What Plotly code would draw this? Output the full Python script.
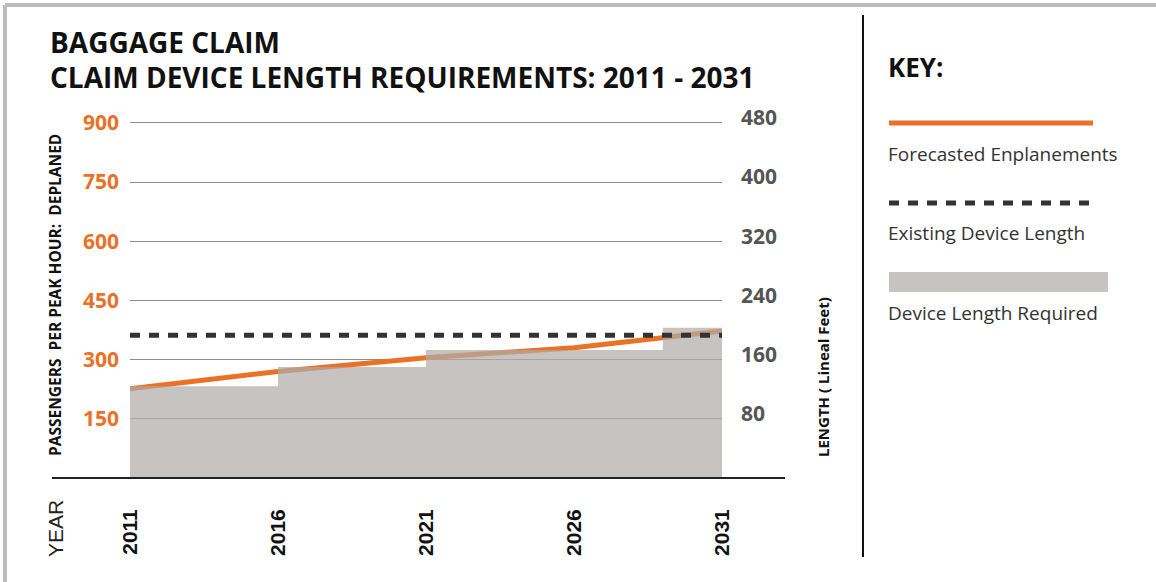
import plotly.graph_objects as go

# ---- data ----
years = [2011, 2016, 2021, 2026, 2031]
enplanements = [226, 270, 305, 330, 373]          # passengers per peak hour (left axis)
required_years = [2011, 2016, 2021, 2029, 2031]
required_ft = [124, 150, 173, 203, 203]           # device length required, lineal feet (right axis)
existing_ft = 193                                  # existing device length, lineal feet
left_ticks = [150, 300, 450, 600, 750, 900]
right_ticks = [80, 160, 240, 320, 400, 480]

W, H = 1156, 582
L, R, T, B = 130, 722, 121, 478   # plot area in pixels
Y_MAX = 905                        # headroom so the 900 gridline is not clipped at the edge

ORANGE = "#EA7125"
DARK = "#333333"
FONT = "Open Sans"


def px(x):
    return (x - L) / (R - L)


def py(y):
    return (B - y) / (B - T)


fig = go.Figure()

# Device length required (stepped, filled)
fig.add_trace(go.Scatter(
    x=required_years, y=required_ft, yaxis="y2",
    mode="lines", line=dict(width=0, shape="hv"),
    fill="tozeroy", fillcolor="rgba(176,172,168,0.72)",
    hoverinfo="skip", showlegend=False,
))

# Existing device length
fig.add_trace(go.Scatter(
    x=[years[0], years[-1]], y=[existing_ft, existing_ft], yaxis="y2",
    mode="lines", line=dict(color=DARK, width=5, dash="10px,9px"),
    showlegend=False,
))

# Forecasted enplanements
fig.add_trace(go.Scatter(
    x=years, y=enplanements, yaxis="y",
    mode="lines", line=dict(color=ORANGE, width=5),
    showlegend=False,
))

fig.update_layout(
    width=W, height=H,
    margin=dict(l=L, r=W - R, t=T, b=H - B, pad=0),
    paper_bgcolor="white", plot_bgcolor="white",
    xaxis=dict(
        range=[years[0], years[-1]], tickvals=years, ticktext=[str(y) for y in years],
        tickangle=-90, showgrid=False, zeroline=False, showline=False, ticks="",
        tickfont=dict(family="Liberation Sans", size=21, color="#111", weight="bold"),
        ticklabelstandoff=26,
    ),
    yaxis=dict(
        range=[0, Y_MAX], tickvals=left_ticks, showgrid=True,
        gridcolor="#8e8e8e", gridwidth=1, zeroline=False, showline=False, ticks="",
        tickfont=dict(family=FONT, size=21, color=ORANGE, weight="bold"),
        ticklabelstandoff=10,
    ),
    yaxis2=dict(
        range=[0, Y_MAX * 480 / 900], tickvals=right_ticks, overlaying="y", side="right",
        showgrid=False, zeroline=False, showline=False, ticks="",
        tickfont=dict(family=FONT, size=21, color="#555555", weight="bold"),
        ticklabelstandoff=18, ticklabelshift=-5,
    ),
)

shapes = []
annotations = []

# outer frame (top and left edges)
shapes.append(dict(type="line", xref="paper", yref="paper",
                   x0=px(5), x1=px(W), y0=py(5), y1=py(5),
                   line=dict(color="#BDBDBD", width=4)))
shapes.append(dict(type="line", xref="paper", yref="paper",
                   x0=px(5), x1=px(5), y0=py(5), y1=py(H),
                   line=dict(color="#BDBDBD", width=4)))

# baseline
shapes.append(dict(type="line", xref="paper", yref="paper",
                   x0=px(52), x1=px(785), y0=py(478), y1=py(478),
                   line=dict(color="#222222", width=2)))

# divider between chart and key
shapes.append(dict(type="line", xref="paper", yref="paper",
                   x0=px(863), x1=px(863), y0=py(15), y1=py(557),
                   line=dict(color="#111111", width=2)))

# titles
annotations.append(dict(text="BAGGAGE CLAIM", xref="paper", yref="paper",
                        x=px(48), y=py(42), xanchor="left", yanchor="middle", showarrow=False,
                        font=dict(family=FONT, size=28, color="#111", weight="bold")))
annotations.append(dict(text="CLAIM DEVICE LENGTH REQUIREMENTS: 2011 - 2031", xref="paper", yref="paper",
                        x=px(48), y=py(77), xanchor="left", yanchor="middle", showarrow=False,
                        font=dict(family=FONT, size=28, color="#111", weight="bold")))

# axis titles
annotations.append(dict(text="PASSENGERS  PER PEAK HOUR:  DEPLANED", xref="paper", yref="paper",
                        x=px(55), y=py(295), textangle=-90, showarrow=False,
                        xanchor="center", yanchor="middle",
                        font=dict(family=FONT, size=15.5, color="#111", weight="bold")))
annotations.append(dict(text="LENGTH ( Lineal Feet)", xref="paper", yref="paper",
                        x=px(823), y=py(377), textangle=-90, showarrow=False,
                        xanchor="center", yanchor="middle",
                        font=dict(family=FONT, size=15, color="#111", weight="bold")))
annotations.append(dict(text="YEAR", xref="paper", yref="paper",
                        x=px(55), y=py(529), textangle=-90, showarrow=False,
                        xanchor="center", yanchor="middle",
                        font=dict(family="Liberation Sans", size=21, color="#222")))

# key
annotations.append(dict(text="KEY:", xref="paper", yref="paper",
                        x=px(886), y=py(67), xanchor="left", yanchor="middle", showarrow=False,
                        font=dict(family=FONT, size=26, color="#111", weight="bold")))
shapes.append(dict(type="line", xref="paper", yref="paper",
                   x0=px(889), x1=px(1093), y0=py(123), y1=py(123),
                   line=dict(color=ORANGE, width=5)))
shapes.append(dict(type="line", xref="paper", yref="paper",
                   x0=px(889), x1=px(1093), y0=py(203), y1=py(203),
                   line=dict(color=DARK, width=5, dash="10px,9px")))
shapes.append(dict(type="rect", xref="paper", yref="paper",
                   x0=px(889), x1=px(1108), y0=py(292), y1=py(272),
                   line=dict(width=0), fillcolor="rgba(176,172,168,0.72)"))
for label, yy in [("Forecasted Enplanements", 154),
                  ("Existing Device Length", 233),
                  ("Device Length Required", 313)]:
    annotations.append(dict(text=label, xref="paper", yref="paper",
                            x=px(886), y=py(yy), xanchor="left", yanchor="middle", showarrow=False,
                            font=dict(family=FONT, size=19, color="#333")))

fig.update_layout(shapes=shapes, annotations=annotations)

fig.write_html("out.html")
